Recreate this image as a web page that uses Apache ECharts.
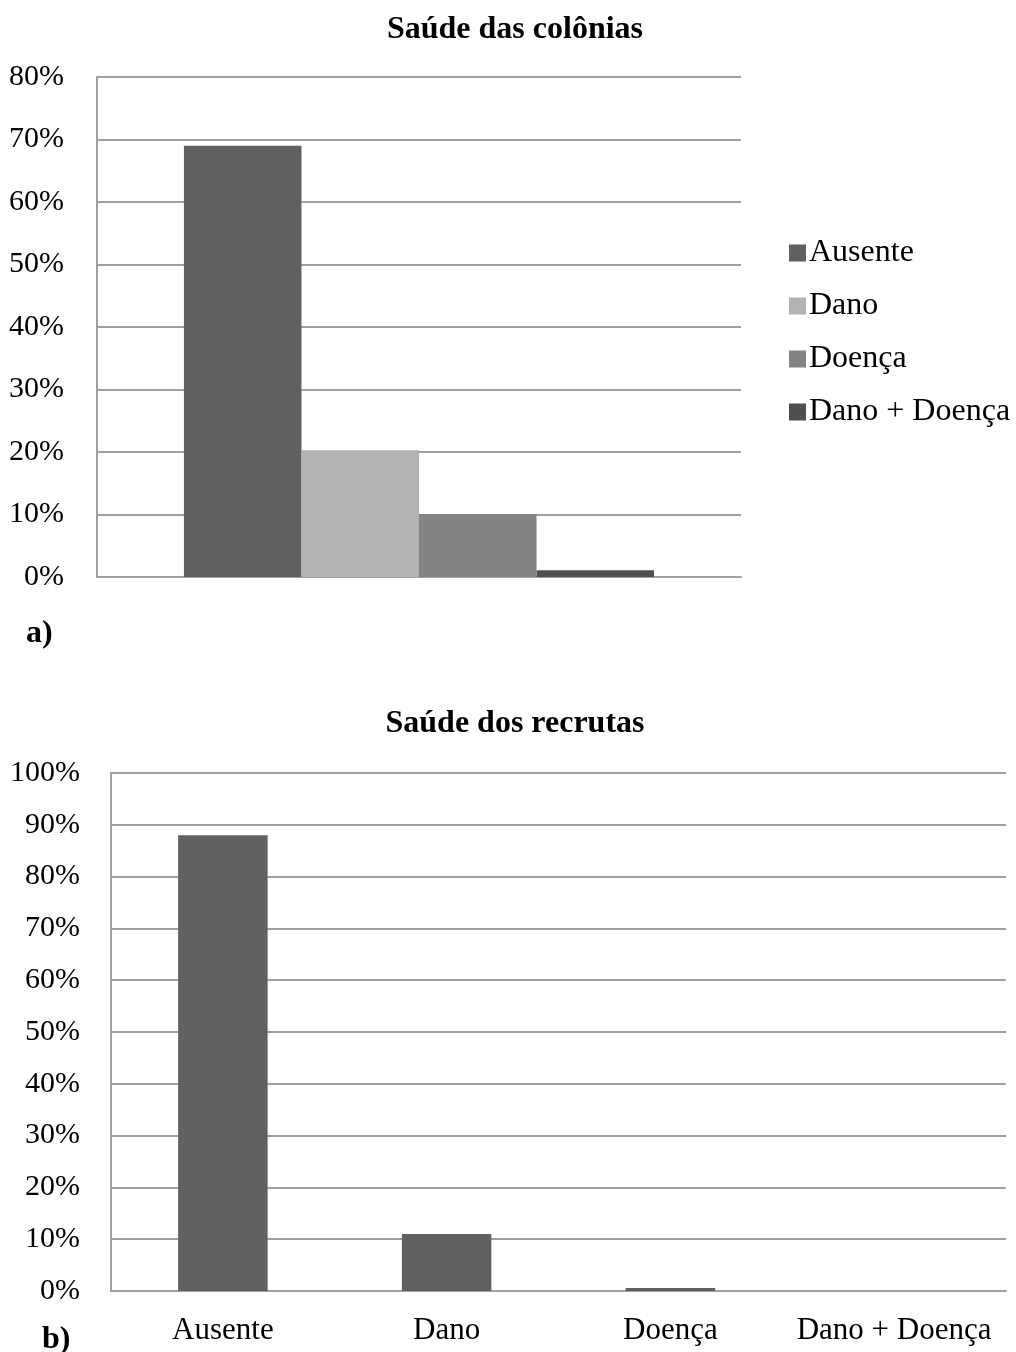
<!DOCTYPE html>
<html>
<head>
<meta charset="utf-8">
<title>Saúde das colônias e dos recrutas</title>
<script src="https://cdn.jsdelivr.net/npm/echarts@6/dist/echarts.min.js"></script>
<style>
  html, body { margin: 0; padding: 0; background: #ffffff; }
  #chart { width: 1016px; height: 1352px; }
</style>
</head>
<body>
<div id="chart"></div>
<script>
// Health categories (shared by both panels)
const categories = ['Ausente', 'Dano', 'Doença', 'Dano + Doença'];
// a) colony health, percent of colonies
const colonyValues = [69, 20.3, 10.1, 1.1];
// b) recruit health, percent of recruits
const recruitValues = [88, 11, 0.6, 0];
// axis tick labels
const colonyTicks = ['0%', '10%', '20%', '30%', '40%', '50%', '60%', '70%', '80%'];
const recruitTicks = ['0%', '10%', '20%', '30%', '40%', '50%', '60%', '70%', '80%', '90%', '100%'];

const colonyColors = ['#606060', '#b2b2b2', '#838383', '#4f4f4f'];
const recruitColor = '#616161';

const FONT = '"Liberation Serif", "Times New Roman", serif';
const gridLine = { lineStyle: { color: '#a0a0a0', width: 2 } };

const chart = echarts.init(document.getElementById('chart'), null, { renderer: 'canvas' });

const colonySeries = categories.map((name, i) => ({
  name: name,
  type: 'bar',
  xAxisIndex: 0,
  yAxisIndex: 0,
  data: [colonyValues[i]],
  itemStyle: { color: colonyColors[i] },
  barGap: '0%',
  barCategoryGap: '27%',
  animation: false
}));

chart.setOption({
  animation: false,
  backgroundColor: '#ffffff',
  textStyle: { fontFamily: FONT, color: '#000' },
  title: [
    { text: 'Saúde das colônias', left: 510, top: 9, textAlign: 'center',
      textStyle: { fontFamily: FONT, fontSize: 32, fontWeight: 'bold', color: '#000' } },
    { text: 'Saúde dos recrutas', left: 510, top: 703, textAlign: 'center',
      textStyle: { fontFamily: FONT, fontSize: 32, fontWeight: 'bold', color: '#000' } },
    { text: 'a)', left: 21, top: 613,
      textStyle: { fontFamily: FONT, fontSize: 32, fontWeight: 'bold', color: '#000' } },
    { text: 'b)', left: 37, top: 1319,
      textStyle: { fontFamily: FONT, fontSize: 32, fontWeight: 'bold', color: '#000' } }
  ],
  legend: {
    data: categories,
    orient: 'vertical',
    left: 784,
    top: 232,
    icon: 'rect',
    itemWidth: 17,
    itemHeight: 17,
    itemGap: 21,
    textStyle: { fontFamily: FONT, fontSize: 32, lineHeight: 30, color: '#000', padding: [0, 0, 0, -2] }
  },
  grid: [
    { left: 97, top: 77, width: 644, height: 500 },
    { left: 111, top: 773, width: 895, height: 518 }
  ],
  xAxis: [
    {
      gridIndex: 0, type: 'category', data: [''],
      axisLine: { show: true, lineStyle: { color: '#a0a0a0', width: 2 } },
      axisTick: { show: false }, axisLabel: { show: false }
    },
    {
      gridIndex: 1, type: 'category', data: categories,
      axisLine: { show: true, lineStyle: { color: '#a0a0a0', width: 2 } },
      axisTick: { show: false },
      axisLabel: { fontFamily: FONT, fontSize: 31, color: '#000', margin: 24, interval: 0 }
    }
  ],
  yAxis: [
    {
      gridIndex: 0, type: 'value', min: 0, max: 80, interval: 10,
      axisLine: { show: true, lineStyle: { color: '#a0a0a0', width: 2 } },
      axisTick: { show: false },
      splitLine: gridLine,
      axisLabel: {
        fontFamily: FONT, fontSize: 30, color: '#000', margin: 33,
        formatter: v => colonyTicks[Math.round(v / 10)]
      }
    },
    {
      gridIndex: 1, type: 'value', min: 0, max: 100, interval: 10,
      axisLine: { show: true, lineStyle: { color: '#a0a0a0', width: 2 } },
      axisTick: { show: false },
      splitLine: gridLine,
      axisLabel: {
        fontFamily: FONT, fontSize: 30, color: '#000', margin: 31,
        formatter: v => recruitTicks[Math.round(v / 10)]
      }
    }
  ],
  series: colonySeries.concat([
    {
      name: 'Saúde dos recrutas',
      type: 'bar',
      xAxisIndex: 1,
      yAxisIndex: 1,
      data: recruitValues,
      itemStyle: { color: recruitColor },
      barCategoryGap: '60%',
      animation: false
    }
  ])
});
</script>
</body>
</html>
